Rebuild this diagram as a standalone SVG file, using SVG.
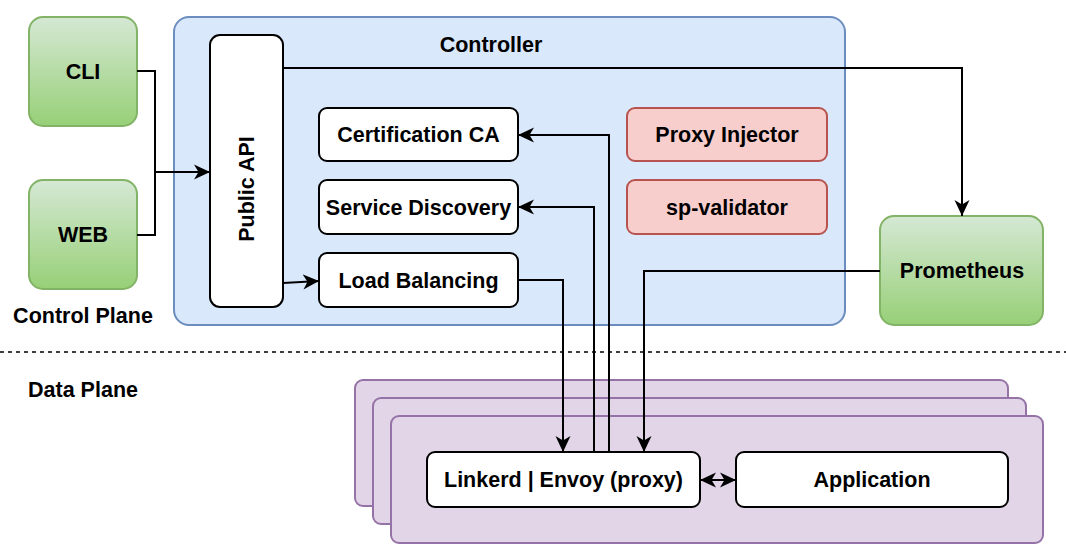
<svg xmlns="http://www.w3.org/2000/svg" width="1066" height="557" viewBox="0 0 1066 557">
<style>
  .t{font-family:"Liberation Sans",Arial,Helvetica,sans-serif;font-weight:bold;font-size:21.5px;fill:#000;text-anchor:middle}
  .w{fill:#fff;stroke:#000;stroke-width:2}
  .g{fill:url(#gr);stroke:#82b366;stroke-width:2}
  .r{fill:#f8cecc;stroke:#b85450;stroke-width:2}
  .p{fill:#e1d5e7;stroke:#9673a6;stroke-width:2}
  .c{fill:none;stroke:#000;stroke-width:2}
</style>
<defs>
  <linearGradient id="gr" x1="0" y1="0" x2="0" y2="1">
    <stop offset="0" stop-color="#d5e8d4"/>
    <stop offset="1" stop-color="#97d077"/>
  </linearGradient>
  <marker id="ar" markerUnits="userSpaceOnUse" viewBox="0 0 16 16" refX="16" refY="8" markerWidth="16" markerHeight="16" orient="auto-start-reverse">
    <path d="M16,8 L0,0.5 L4.5,8 L0,15.5 Z" fill="#000"/>
  </marker>
</defs>
<rect width="1066" height="557" fill="#fff"/>

<g id="controller">
  <rect x="174" y="17" width="671" height="308" rx="15" fill="#dae8fc" stroke="#6c8ebf" stroke-width="2"/>
  <text class="t" x="491" y="52">Controller</text>
</g>
<g id="cli">
  <rect class="g" x="29" y="17" width="108" height="109" rx="14"/>
  <text class="t" x="83" y="79">CLI</text>
</g>
<g id="web">
  <rect class="g" x="29" y="180" width="108" height="109" rx="14"/>
  <text class="t" x="83" y="242">WEB</text>
</g>
<g id="public-api">
  <rect class="w" x="210" y="35" width="73" height="272" rx="10"/>
  <text class="t" x="246.5" y="196.5" transform="rotate(-90 246.5 189)">Public API</text>
</g>
<g id="cert-ca">
  <rect class="w" x="319" y="108" width="199" height="53" rx="8"/>
  <text class="t" x="418.5" y="142">Certification CA</text>
</g>
<g id="service-discovery">
  <rect class="w" x="319" y="180" width="199" height="54" rx="8"/>
  <text class="t" x="418.5" y="214.5">Service Discovery</text>
</g>
<g id="load-balancing">
  <rect class="w" x="319" y="253" width="199" height="54" rx="8"/>
  <text class="t" x="418.5" y="287.5">Load Balancing</text>
</g>
<g id="proxy-injector">
  <rect class="r" x="627" y="108" width="200" height="53" rx="8"/>
  <text class="t" x="727" y="142">Proxy Injector</text>
</g>
<g id="sp-validator">
  <rect class="r" x="627" y="180" width="200" height="54" rx="8"/>
  <text class="t" x="727" y="214.5">sp-validator</text>
</g>
<g id="prometheus">
  <rect class="g" x="880" y="216" width="163" height="109" rx="14"/>
  <text class="t" x="962" y="278">Prometheus</text>
</g>

<g id="plane-labels">
  <text class="t" x="83" y="323">Control Plane</text>
  <text class="t" x="83" y="397">Data Plane</text>
  <line x1="0" y1="352" x2="1066" y2="352" stroke="#000" stroke-width="1.5" stroke-dasharray="4 4"/>
</g>

<g id="data-plane">
  <rect class="p" x="355" y="380" width="653" height="126" rx="8"/>
  <rect class="p" x="373" y="398" width="653" height="126" rx="8"/>
  <rect class="p" x="391" y="416" width="652" height="127" rx="8"/>
</g>
<g id="proxy">
  <rect class="w" x="427" y="452" width="273" height="55" rx="8"/>
  <text class="t" x="563.5" y="487">Linkerd | Envoy (proxy)</text>
</g>
<g id="application">
  <rect class="w" x="736" y="452" width="272" height="55" rx="8"/>
  <text class="t" x="872" y="487">Application</text>
</g>

<g id="connectors">
  <polyline class="c" points="137,71 155,71 155,235 137,235"/>
  <polyline class="c" points="155,172 210,172" marker-end="url(#ar)"/>
  <polyline class="c" points="283,68 962,68 962,216" marker-end="url(#ar)"/>
  <polyline class="c" points="283,283 319,281" marker-end="url(#ar)"/>
  <polyline class="c" points="518,280 563,280 563,452" marker-end="url(#ar)"/>
  <polyline class="c" points="594,452 594,207 518,207" marker-end="url(#ar)"/>
  <polyline class="c" points="609,452 609,135 518,135" marker-end="url(#ar)"/>
  <polyline class="c" points="880,271 644,271 644,452" marker-end="url(#ar)"/>
  <line class="c" x1="700" y1="480" x2="736" y2="480" marker-start="url(#ar)" marker-end="url(#ar)"/>
</g>
</svg>
